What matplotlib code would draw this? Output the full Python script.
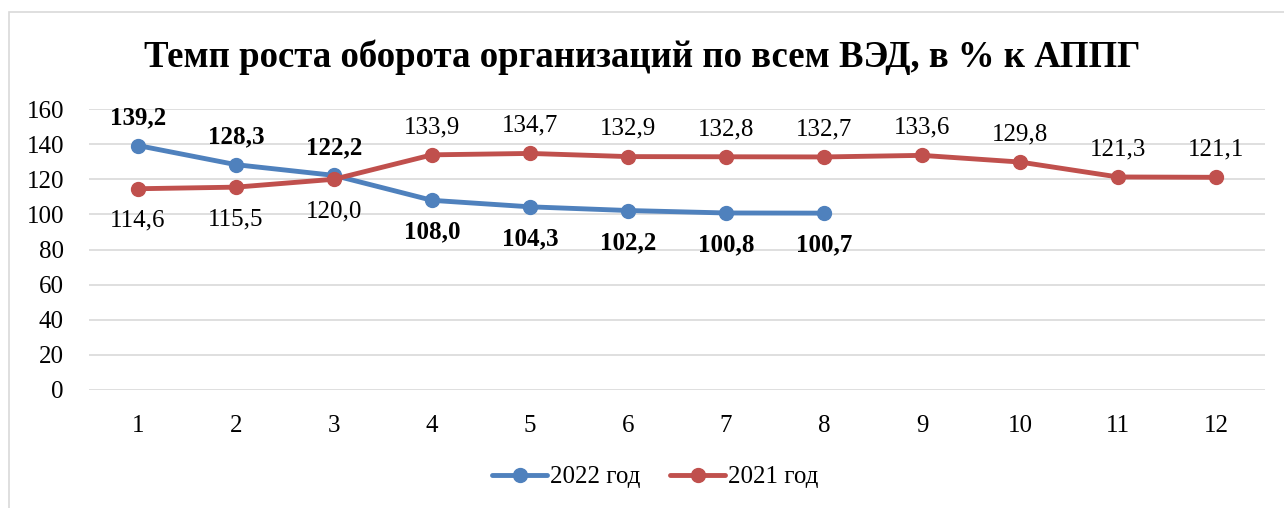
import matplotlib
matplotlib.use("Agg")
import matplotlib.pyplot as plt
from matplotlib.patches import Rectangle

# data
months = [1, 2, 3, 4, 5, 6, 7, 8, 9, 10, 11, 12]
vals_2022 = [139.2, 128.3, 122.2, 108.0, 104.3, 102.2, 100.8, 100.7]
vals_2021 = [114.6, 115.5, 120.0, 133.9, 134.7, 132.9, 132.8, 132.7, 133.6, 129.8, 121.3, 121.1]
title = "Темп роста оборота организаций по всем ВЭД, в % к АППГ"

plt.rcParams['font.family'] = ['Liberation Serif', 'DejaVu Serif']

BLUE = '#4F81BD'
RED = '#C0504D'
FS = 18

fig = plt.figure(figsize=(12.84, 5.08), dpi=100)
ax = fig.add_axes([89 / 1284, 1 - 390 / 508, (1265 - 89) / 1284, (390 - 109) / 508])

# light frame around the chart
fig.patches.append(Rectangle((8.5 / 1284, -0.05), 1.1, 1 - 12.5 / 508 + 0.05,
                             transform=fig.transFigure, fill=False,
                             edgecolor='#D9D9D9', lw=1.2))

ax.plot(months[:len(vals_2022)], vals_2022, color=BLUE, lw=3.5, marker='o', ms=10,
        label='2022 год', solid_capstyle='round', zorder=3)
ax.plot(months, vals_2021, color=RED, lw=3.5, marker='o', ms=10,
        label='2021 год', solid_capstyle='round', zorder=3)

def fmt(v):
    return f"{v:.1f}".replace('.', ',')

# 2022 labels: bold, above for the first three, below afterwards
for i, v in enumerate(vals_2022):
    dy = 20 if i < 3 else -23
    ax.annotate(fmt(v), (months[i], v), xytext=(0, dy), textcoords='offset points',
                ha='center', va='center', fontsize=FS, fontweight='bold')

# 2021 labels: below for the first three, above afterwards
for i, v in enumerate(vals_2021):
    dy = -23 if i < 3 else 20
    ax.annotate(fmt(v), (months[i], v), xytext=(0, dy), textcoords='offset points',
                ha='center', va='center', fontsize=FS)

ax.set_xlim(0.5, 12.5)
ax.set_ylim(0, 160)
ax.set_yticks(range(0, 161, 20))
ax.set_xticks(months)
ax.grid(axis='y', color='#D9D9D9', lw=1.2)
ax.set_axisbelow(True)
for s in ax.spines.values():
    s.set_visible(False)
ax.tick_params(axis='both', length=0, labelsize=FS)
ax.tick_params(axis='y', pad=18)
ax.tick_params(axis='x', pad=18)

fig.text(0.5, 1 - 57 / 508, title, ha='center', va='center',
         fontsize=26.5, fontweight='bold')

ax.legend(loc='center', bbox_to_anchor=(655 / 1284, 1 - 477 / 508),
          bbox_transform=fig.transFigure, ncol=2, frameon=False,
          fontsize=FS, handlelength=2.2, columnspacing=1.2, handletextpad=0.1)

fig.savefig('out.png', dpi=100)
